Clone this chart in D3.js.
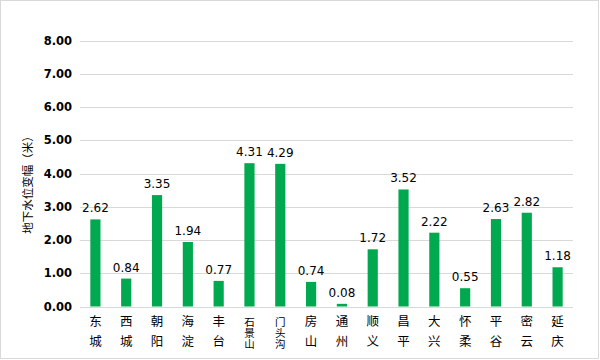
<!DOCTYPE html>
<html><head><meta charset="utf-8">
<script src="https://cdn.jsdelivr.net/npm/d3@7"></script>
<style>body{margin:0;background:#fff}svg{display:block}</style>
</head><body>
<svg id="c" width="600" height="360"></svg>
<script>
const categories = ["东城","西城","朝阳","海淀","丰台","石景山","门头沟","房山","通州","顺义","昌平","大兴","怀柔","平谷","密云","延庆"];
const values = [2.62,0.84,3.35,1.94,0.77,4.31,4.29,0.74,0.08,1.72,3.52,2.22,0.55,2.63,2.82,1.18];
const yTicks = [0,1,2,3,4,5,6,7,8];
const yTitle = "地下水位变幅（米）";

const svg = d3.select("#c");
const m = {l:80, r:27, t:40.5, b:53.5};
const W = 600, H = 360;
svg.append("rect").attr("x",0.5).attr("y",0.5).attr("width",W-2).attr("height",H-2)
  .attr("fill","#fff").attr("stroke","#d9d9d9");

const x = d3.scaleBand().domain(categories).range([m.l, W-m.r]).paddingInner(0.67).paddingOuter(0.335);
const y = d3.scaleLinear().domain([0,8]).range([H-m.b, m.t]);

const font = "'DejaVu Sans', 'Noto Sans CJK SC', sans-serif";
const cjk = "'Noto Sans CJK SC', sans-serif";

// grid
svg.append("g").selectAll("line").data(yTicks).join("line")
  .attr("x1",m.l).attr("x2",W-m.r)
  .attr("y1",d=>Math.round(y(d))+0.5).attr("y2",d=>Math.round(y(d))+0.5)
  .attr("stroke","#d9d9d9").attr("stroke-width",1);

// y tick labels
const yAxis = d3.axisLeft(y).tickValues(yTicks).tickFormat(d3.format(".2f")).tickSize(0).tickPadding(8);
const ya = svg.append("g").attr("transform",`translate(${m.l},0)`).call(yAxis);
ya.select(".domain").remove();
ya.selectAll("text").attr("font-family",font).attr("font-size",11.5).attr("font-weight","bold").attr("fill","#000");

// bars
svg.append("g").selectAll("rect").data(values).join("rect")
  .attr("x",(d,i)=>x(categories[i]))
  .attr("width",x.bandwidth())
  .attr("y",d=>y(d))
  .attr("height",d=>y(0)-y(d))
  .attr("fill","#00a84f");

// value labels
svg.append("g").selectAll("text").data(values).join("text")
  .attr("x",(d,i)=>x(categories[i])+x.bandwidth()/2)
  .attr("y",d=>y(d)-7)
  .attr("text-anchor","middle")
  .attr("font-family",font).attr("font-size",12).attr("fill","#000")
  .text(d=>d3.format(".2f")(d));

// category labels (vertical stacked chars, one text element each)
svg.append("g").selectAll("text").data(categories).join("text")
  .attr("font-family",cjk).attr("fill","#000").attr("text-anchor","middle")
  .attr("font-size",d=>Array.from(d).length>2 ? 10.5 : 12.5)
  .each(function(c){
    const chars = Array.from(c);
    const three = chars.length>2;
    const step = three ? 11.2 : 20;
    const cx = x(c)+x.bandwidth()/2;
    d3.select(this).selectAll("tspan").data(chars).join("tspan")
      .attr("x",cx)
      .attr("y",(ch,j)=>326+j*step)
      .text(ch=>ch);
  });

// y title
svg.append("text")
  .attr("transform",`translate(32,182) rotate(-90)`)
  .attr("text-anchor","middle")
  .attr("font-family",cjk).attr("font-size",11.5).attr("fill","#000")
  .text(yTitle);
</script>
</body></html>
